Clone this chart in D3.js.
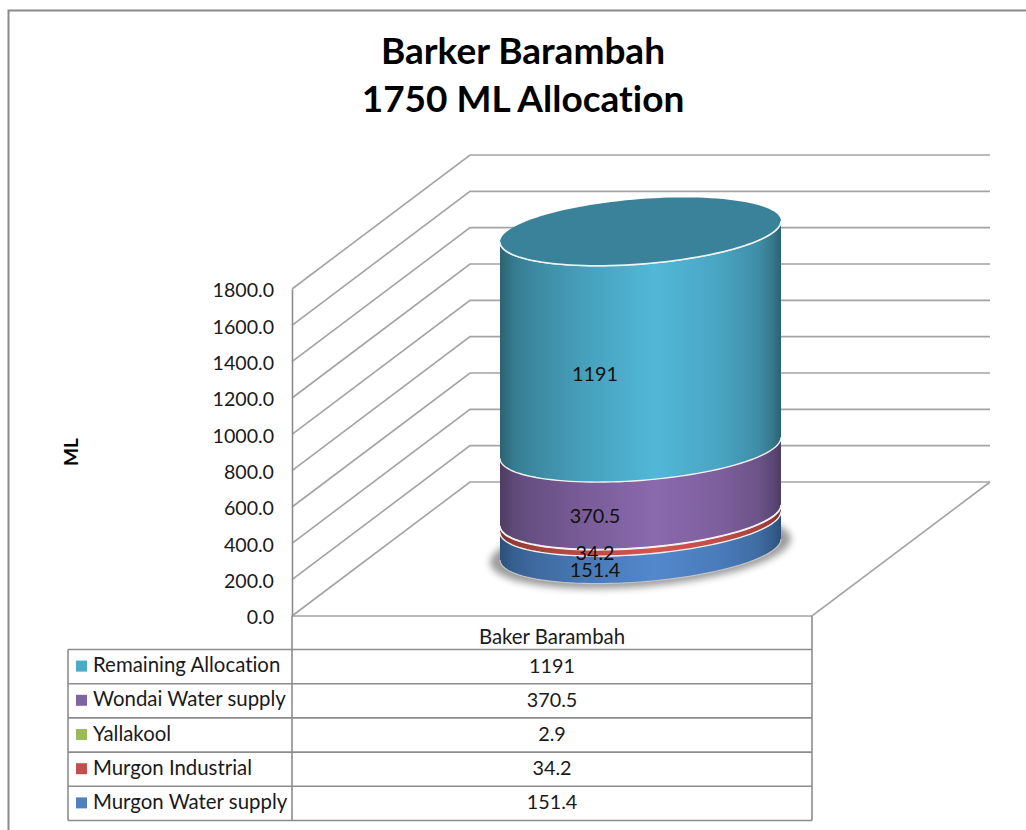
<!DOCTYPE html>
<html><head><meta charset="utf-8">
<script src="https://cdn.jsdelivr.net/npm/d3@7"></script>
<style>html,body{margin:0;padding:0;background:#fff}svg{display:block}text{font-family:Lato,"Open Sans",sans-serif;fill:#1a1a1a;font-variant-ligatures:none;font-feature-settings:"liga" 0}</style>
</head><body><svg id="c" width="1026" height="830"></svg>
<script>
const titleLines = ["Barker Barambah", "1750 ML Allocation"];
const category = "Baker Barambah";
const yAxisTitle = "ML";
const seriesNames = ["Murgon Water supply", "Murgon Industrial", "Yallakool", "Wondai Water supply", "Remaining Allocation"];
const seriesValues = [151.4, 34.2, 2.9, 370.5, 1191];
const valueLabels = ["151.4", "34.2", "2.9", "370.5", "1191"];
const swatchColors = ["#4f81bd", "#c0504d", "#9bbb59", "#8064a2", "#4bacc6"];
const bandEdge = ["#2b4f78", "#7d2f2d", "#5f7735", "#4d3c63", "#2b6273"];
const bandPeak = ["#5388cd", "#d4544f", "#a5c75e", "#8a69ad", "#51b8d8"];
const topColor = "#3a8299";
const yTicks = [0, 200, 400, 600, 800, 1000, 1200, 1400, 1600, 1800];
const hiddenLabel = new Set(["Yallakool"]);

const svg = d3.select("#c");
const gridC = "#a3a3a3", tableC = "#8c8c8c";

// frame
svg.append("path").attr("d", "M8.5,830V10.5H1026").attr("fill", "none").attr("stroke", "#8a8a8a").attr("stroke-width", 2);

// title
svg.append("g").selectAll("text").data(titleLines).join("text")
  .attr("x", 523).attr("y", (d, i) => 64 + i * 48).attr("text-anchor", "middle")
  .attr("font-size", 37).attr("font-weight", 700).style("fill", "#000").text(d => d);

// scales
const y = d3.scaleLinear().domain([0, 1800]).range([616, 289]);
const depth = { dx: 178, dy: -134 };
const wallRight = 990, axisX = 292, floorRight = 812;

// gridlines (side wall + back wall)
const grid = svg.append("g").attr("fill", "none").attr("stroke", gridC).attr("stroke-width", 1.6);
grid.selectAll("path").data(yTicks).join("path")
  .attr("d", v => `M${axisX},${y(v)}L${axisX + depth.dx},${y(v) + depth.dy}L${wallRight},${y(v) + depth.dy}`);
// floor
grid.append("path").attr("d", `M${wallRight},${y(0) + depth.dy}L${floorRight},${y(0)}L${axisX},${y(0)}`);

// axis
const axis = d3.axisLeft(y).tickValues(yTicks).tickFormat(d3.format(".1f")).tickSize(0).tickPadding(18);
const ax = svg.append("g").attr("transform", `translate(${axisX},0)`).call(axis);
ax.select(".domain").attr("stroke", tableC).attr("stroke-width", 1.6);
ax.selectAll("text").attr("font-size", 19.6).attr("dy", "0.4em").style("font-family", "Lato").style("fill", "#1a1a1a");

svg.append("text").attr("transform", "translate(78,452) rotate(-90)").attr("text-anchor", "middle")
  .attr("font-size", 19).attr("font-weight", 700).style("fill", "#000").text(yAxisTitle);

// cylinder
const cyl = { cx: 640.5, rx: 140.5, tilt: -10.5, ry: 32.5, base: 549.5 };
const level = v => cyl.base - (y(0) - y(v));
const ellX = t => cyl.cx + cyl.rx * Math.cos(t);
const ellY = (t, v) => level(v) + cyl.tilt * Math.cos(t) + cyl.ry * Math.sin(t);
const front = d3.range(0, 61).map(i => i / 60 * Math.PI);
const whole = d3.range(0, 121).map(i => i / 120 * 2 * Math.PI);
const cum = Array.from(d3.cumsum(seriesValues));
const bands = seriesValues.map((v, i) => ({ name: seriesNames[i], i, v, lo: i ? cum[i - 1] : 0, hi: cum[i] }));

const defs = svg.append("defs");
defs.append("filter").attr("id", "sh").attr("x", "-20%").attr("y", "-50%").attr("width", "140%").attr("height", "200%")
  .append("feGaussianBlur").attr("stdDeviation", 3.5);
bands.forEach(b => {
  const g = defs.append("linearGradient").attr("id", "g" + b.i).attr("x1", 0).attr("x2", 1).attr("y1", 0).attr("y2", 0);
  const m = d3.interpolateRgb(bandEdge[b.i], bandPeak[b.i]);
  [[0, 0], [.05, .3], [.12, .45], [.3, .72], [.55, 1], [.78, .78], [.92, .5], [.97, .25], [1, 0]].forEach(s =>
    g.append("stop").attr("offset", s[0]).attr("stop-color", m(s[1])));
});

const line = d3.line();
// floor shadow
const shadowPts = whole.map(t => [ellX(t), ellY(t, 0)]);
svg.append("path")
  .attr("d", d3.line().x(p => cyl.cx + (p[0] - cyl.cx) * 1.07).y(p => level(0) + (p[1] - level(0)) * 1.12 + 1)(shadowPts) + "Z")
  .attr("fill", "#666").attr("opacity", .65).attr("filter", "url(#sh)");

const cg = svg.append("g");
const sidePath = b => line(
  front.map(t => [ellX(t), ellY(t, b.lo)]).concat(front.slice().reverse().map(t => [ellX(t), ellY(t, b.hi)]))
) + "Z";
cg.selectAll("path.side").data(bands).join("path").attr("class", "side")
  .attr("d", sidePath).attr("fill", b => `url(#g${b.i})`);
cg.selectAll("path.rim").data(bands).join("path").attr("class", "rim")
  .attr("d", b => line(front.map(t => [ellX(t), ellY(t, b.hi)])))
  .attr("fill", "none").attr("stroke", "#f2f2f2").attr("stroke-width", 1.4);
// base rim
cg.append("path").attr("d", line(front.map(t => [ellX(t), ellY(t, 0)])))
  .attr("fill", "none").attr("stroke", "#c4c4c4").attr("stroke-width", 1.2);
// top cap
const total = cum[cum.length - 1];
cg.append("path").attr("d", line(whole.map(t => [ellX(t), ellY(t, total)])) + "Z").attr("fill", topColor);
cg.append("path").attr("d", line(front.map(t => [ellX(t), ellY(t, total)])))
  .attr("fill", "none").attr("stroke", "#eef3f4").attr("stroke-width", 1.6);

// data labels on the cylinder front
const labelT = Math.PI - Math.acos((cyl.cx - 595) / cyl.rx);
svg.append("g").selectAll("text").data(bands.filter(b => !hiddenLabel.has(b.name))).join("text")
  .attr("x", ellX(labelT)).attr("y", b => ellY(labelT, (b.lo + b.hi) / 2) + 7)
  .attr("text-anchor", "middle").attr("font-size", 19.8).style("fill", "#111").text(b => valueLabels[b.i]);

// data table
const rowOrder = bands.slice().reverse();
const tableTop = 649.5, rowH = 34.2, tableLeft = 68;
const rowY = d3.scaleLinear().domain([0, rowOrder.length]).range([tableTop, tableTop + rowH * rowOrder.length]);
const tbl = svg.append("g").attr("stroke", tableC).attr("stroke-width", 1.6).attr("fill", "none");
tbl.selectAll("line.h").data(d3.range(rowOrder.length + 1)).join("line").attr("class", "h")
  .attr("x1", tableLeft).attr("x2", floorRight).attr("y1", rowY).attr("y2", rowY);
tbl.append("line").attr("x1", tableLeft).attr("x2", tableLeft).attr("y1", rowY(0)).attr("y2", rowY(rowOrder.length));
[axisX, floorRight].forEach(x => tbl.append("line").attr("x1", x).attr("x2", x).attr("y1", y(0)).attr("y2", rowY(rowOrder.length)));

const midX = (axisX + floorRight) / 2;
svg.append("text").attr("x", midX).attr("y", 644).attr("text-anchor", "middle").attr("font-size", 20.4).text(category);
const rows = svg.append("g").selectAll("g").data(rowOrder).join("g")
  .attr("transform", (d, i) => `translate(0,${rowY(i) + rowH / 2})`);
rows.append("rect").attr("x", 76).attr("y", -6).attr("width", 11).attr("height", 11).attr("fill", b => swatchColors[b.i]);
rows.append("text").attr("x", 93).attr("y", 5.5).attr("font-size", 20.4).text(b => b.name);
rows.append("text").attr("x", midX).attr("y", 6).attr("text-anchor", "middle").attr("font-size", 19.8).text(b => valueLabels[b.i]);
</script></body></html>
